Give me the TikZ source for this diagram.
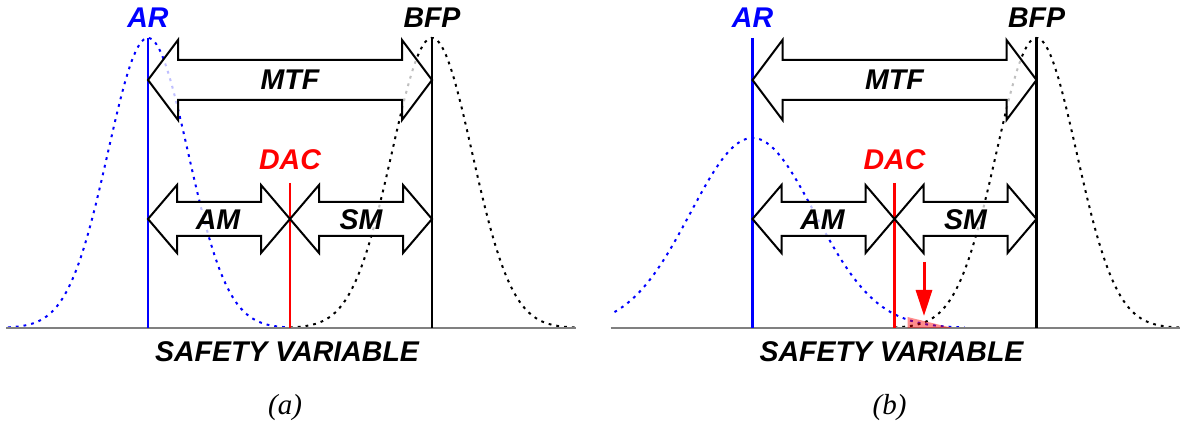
\documentclass[tikz,border=0pt]{standalone}
\usepackage{fontspec}
\setmainfont{Liberation Sans}
\newfontfamily\serifcap{Liberation Serif}
\usetikzlibrary{arrows.meta}
\tikzset{
  lab/.style={font=\fontsize{28.5}{30}\selectfont\bfseries\itshape, inner sep=0pt},
  caplab/.style={font=\fontsize{29}{31}\selectfont\serifcap\itshape, inner sep=0pt},
  dotc/.style={line width=2pt, dash pattern=on 2.8pt off 5pt},
  vline/.style={line width=2.6pt},
  dbl/.style={draw=black, line width=2pt, fill=white, fill opacity=0.75, line join=miter},
  baseln/.style={draw=gray, line width=2pt},
}
\newcommand\dblarr[6]{\path[dbl] (#1,#3) -- ({#1+#6},{#3-#5}) -- ({#1+#6},{#3-#4}) -- ({#2-#6},{#3-#4}) -- ({#2-#6},{#3-#5}) -- (#2,#3) -- ({#2-#6},{#3+#5}) -- ({#2-#6},{#3+#4}) -- ({#1+#6},{#3+#4}) -- ({#1+#6},{#3+#5}) -- cycle;}
\newcommand\panelbody{%
  \draw[dotc] plot[domain=290:575,samples=140] (\x,{328-290*exp(-0.5*((\x-432)/40)^2)});
  \draw[baseln] (6,328) -- (576,328);
  \draw[vline, blue] (148,38) -- (148,328);
  \draw[vline] (432,38) -- (432,328);
  \draw[vline, red] (290,183) -- (290,328);
  \dblarr{148}{432}{80}{20}{40}{30}
  \dblarr{148}{290}{219}{17}{34}{29}
  \dblarr{290}{432}{219}{17}{34}{29}
  \node[lab, blue] (ar) at (148,18) {AR};
  \node[lab] (bfp) at (432,18) {BFP};
  \node[lab, red] (dac) at (290,160) {DAC};
  \node[lab] (mtf) at (290,80) {MTF};
  \node[lab] (am) at (218,220) {AM};
  \node[lab] (sm) at (361,220) {SM};
  \node[lab] (sv) at (287,352) {SAFETY VARIABLE};
}
\begin{document}
\begin{tikzpicture}[x=1pt,y=-1pt]
\useasboundingbox (0,0) rectangle (1180,427);
% panel (a)
\begin{scope}[name prefix=a-]
  \draw[dotc, blue] plot[domain=8:290,samples=140] (\x,{328-290*exp(-0.5*((\x-148)/40)^2)});
  \panelbody
  \node[caplab] (cap) at (285,408) {(a)};
\end{scope}
% panel (b)
\begin{scope}[xshift=604.5pt, name prefix=b-]
  \draw[dotc, blue] plot[domain=10:360,samples=160] (\x,{328-190*exp(-0.5*((\x-148)/62)^2)});
  \panelbody
  \fill[red, fill opacity=0.45] (303,317) -- (348,328) -- (303,328) -- cycle;
  \coordinate (rtop) at (319.5,262);
  \coordinate (rtip) at (319.5,316);
  \draw[red, line width=3pt, -{Triangle[width=16pt,length=26pt]}] (rtop) -- (rtip);
  \node[caplab] (cap) at (285,408) {(b)};
\end{scope}
\end{tikzpicture}
\end{document}
